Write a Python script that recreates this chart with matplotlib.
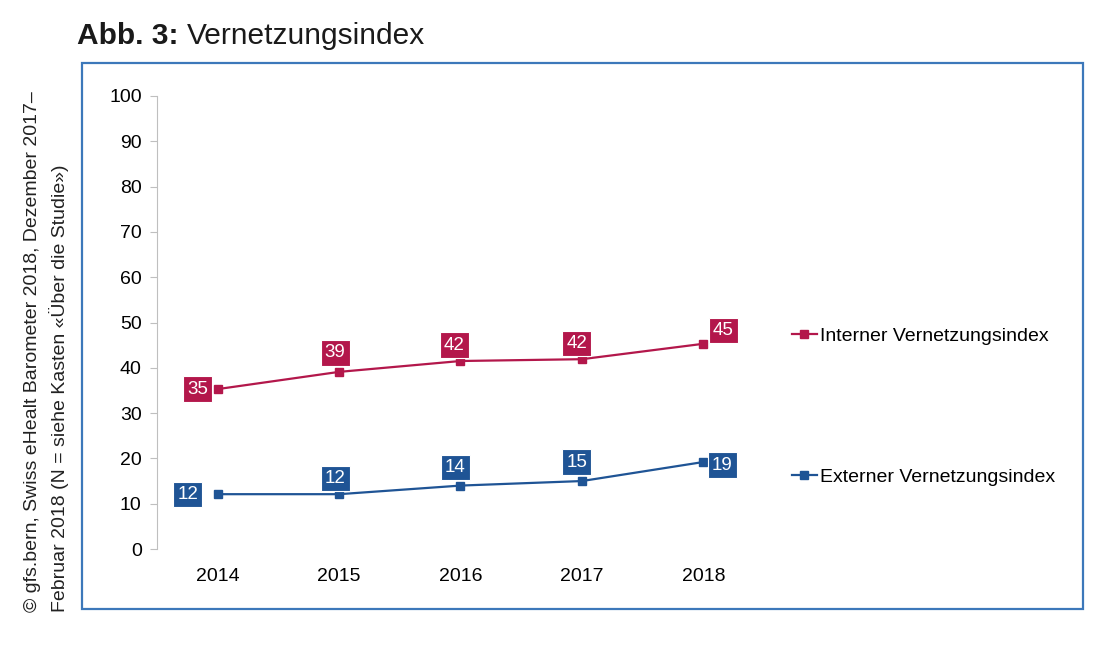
import matplotlib
matplotlib.use("Agg")
import matplotlib.pyplot as plt
from matplotlib.patches import Rectangle
from matplotlib.lines import Line2D

years = ["2014", "2015", "2016", "2017", "2018"]
intern_vals = [35.3, 39.1, 41.5, 41.9, 45.3]
extern_vals = [12.1, 12.1, 14.0, 15.0, 19.2]
intern_labels = ["35", "39", "42", "42", "45"]
extern_labels = ["12", "12", "14", "15", "19"]
series_names = ["Interner Vernetzungsindex", "Externer Vernetzungsindex"]
yticks = [0, 10, 20, 30, 40, 50, 60, 70, 80, 90, 100]

RED = "#B3174B"
BLUE = "#1F5495"
FRAME = "#3C78BA"
FONT = "Liberation Sans"

plt.rcParams["font.family"] = [FONT, "DejaVu Sans"]

fig = plt.figure(figsize=(11, 6.57), dpi=100)
ax = fig.add_axes([157/1100, 1-549/657, (764-157)/1100, (549-96)/657])

x = list(range(len(years)))
ax.plot(x, intern_vals, color=RED, lw=1.6, marker="s", ms=6, clip_on=False)
ax.plot(x, extern_vals, color=BLUE, lw=1.6, marker="s", ms=6, clip_on=False)

px = 72/100.0
intern_off = [(-20, 0), (-4, 19), (-6, 16), (-5, 16), (20, 13)]
extern_off = [(-30, 0), (-4, 16), (-5, 18), (-5, 19), (19, -3)]
for vals, labs, offs, col in [(intern_vals, intern_labels, intern_off, RED),
                              (extern_vals, extern_labels, extern_off, BLUE)]:
    for i, (v, l, o) in enumerate(zip(vals, labs, offs)):
        ax.annotate(l, (i, v), xytext=(o[0]*px, o[1]*px), textcoords="offset points",
                    ha="center", va="center", color="white", fontsize=13.5,
                    bbox=dict(boxstyle="square,pad=0.22", fc=col, ec="white", lw=0.8))

ax.set_xlim(-0.5, 4.5)
ax.set_ylim(0, 100)
ax.set_yticks(yticks)
ax.set_xticks(x)
ax.set_xticklabels(years)
for s in ["top", "right", "bottom"]:
    ax.spines[s].set_visible(False)
ax.spines["left"].set_color("#BFBFBF")
ax.tick_params(axis="y", direction="out", length=5, color="#BFBFBF", labelsize=14, pad=6)
ax.tick_params(axis="x", length=0, labelsize=14, pad=14)

h1 = Line2D([], [], color=RED, lw=1.6, marker="s", ms=6)
h2 = Line2D([], [], color=BLUE, lw=1.6, marker="s", ms=6)
leg1 = fig.legend([h1], [series_names[0]], loc="center left",
                  bbox_to_anchor=(784/1100, 1-336/657), frameon=False, fontsize=14,
                  handlelength=1.3, handletextpad=0.15, borderaxespad=0)
leg2 = fig.legend([h2], [series_names[1]], loc="center left",
                  bbox_to_anchor=(784/1100, 1-477/657), frameon=False, fontsize=14,
                  handlelength=1.3, handletextpad=0.15, borderaxespad=0)

fig.patches.append(Rectangle((82/1100, 1-609/657), (1083-82)/1100, (609-63)/657,
                             transform=fig.transFigure, fill=False, ec=FRAME, lw=1.6))

t1 = fig.text(77/1100, 1-36/657, "Abb. 3:", fontsize=21.5, fontweight="bold",
              ha="left", va="center", color="#1a1a1a")
fig.canvas.draw()
bb = t1.get_window_extent()
fig.text(bb.x1/1100 + 8/1100, 1-36/657, "Vernetzungsindex", fontsize=21.5,
         ha="left", va="center", color="#1a1a1a")

fig.text(33/1100, 1-612/657, "© gfs.bern, Swiss eHealt Barometer 2018, Dezember 2017–",
         rotation=90, fontsize=14, ha="center", va="bottom", color="#222222")
fig.text(59/1100, 1-612/657, "Februar 2018 (N = siehe Kasten «Über die Studie»)",
         rotation=90, fontsize=14, ha="center", va="bottom", color="#222222")

fig.savefig("out.png", dpi=100)
